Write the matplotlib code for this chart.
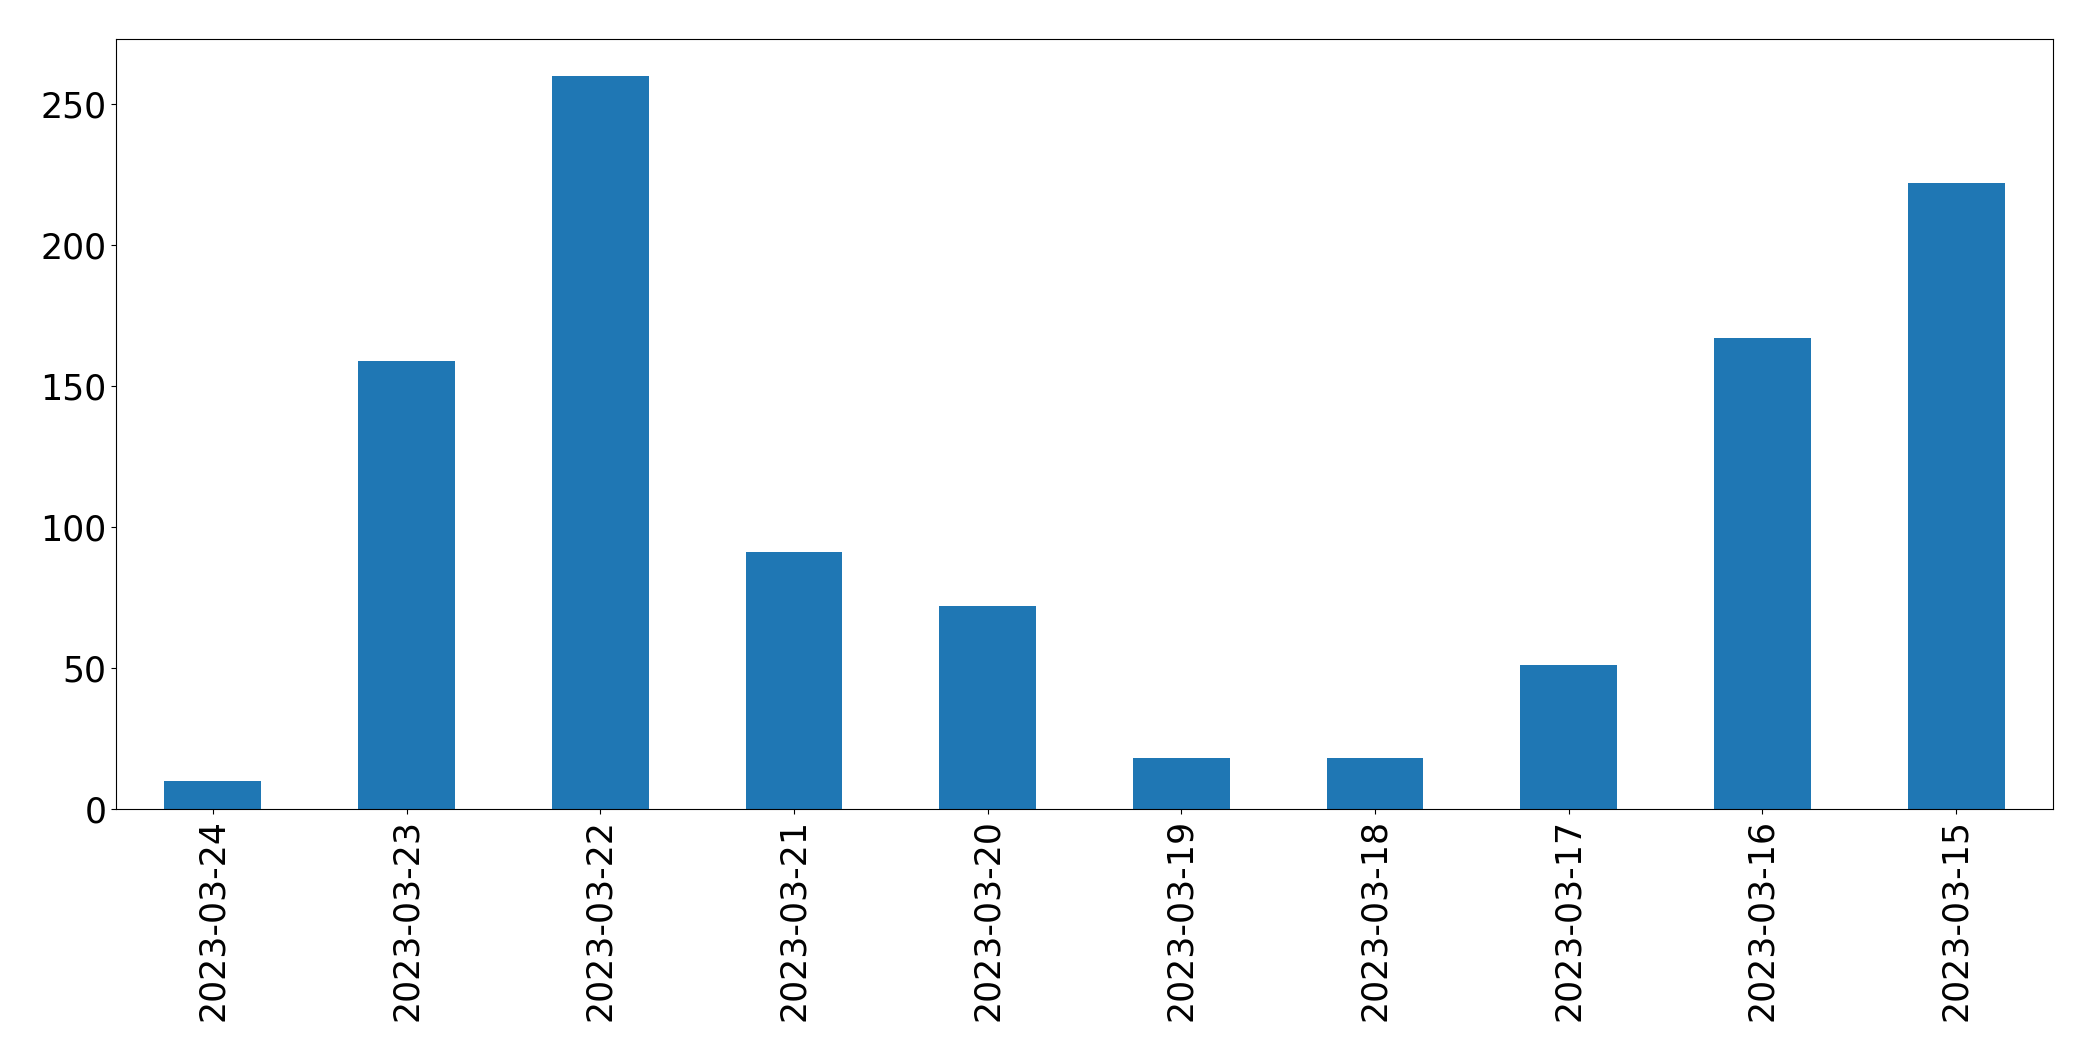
import matplotlib
matplotlib.use("Agg")
import matplotlib.pyplot as plt
import numpy as np

dates = ["2023-03-24", "2023-03-23", "2023-03-22", "2023-03-21", "2023-03-20",
         "2023-03-19", "2023-03-18", "2023-03-17", "2023-03-16", "2023-03-15"]
counts = [10, 159, 260, 91, 72, 18, 18, 51, 167, 222]

fig = plt.figure(figsize=(20.93, 10.61), dpi=100)
ax = fig.add_axes([116/2093, 1-809/1061, (2053-116)/2093, (809-39)/1061])
x = np.arange(len(dates))
ax.bar(x, counts, width=0.5, color="#1f77b4")
ax.set_xlim(-0.5, len(dates) - 0.5)
ax.set_ylim(0, max(counts) * 1.05)
ax.set_xticks(x)
ax.set_xticklabels(dates, rotation=90)
ax.tick_params(labelsize=25)
fig.savefig("out.png", dpi=100)
